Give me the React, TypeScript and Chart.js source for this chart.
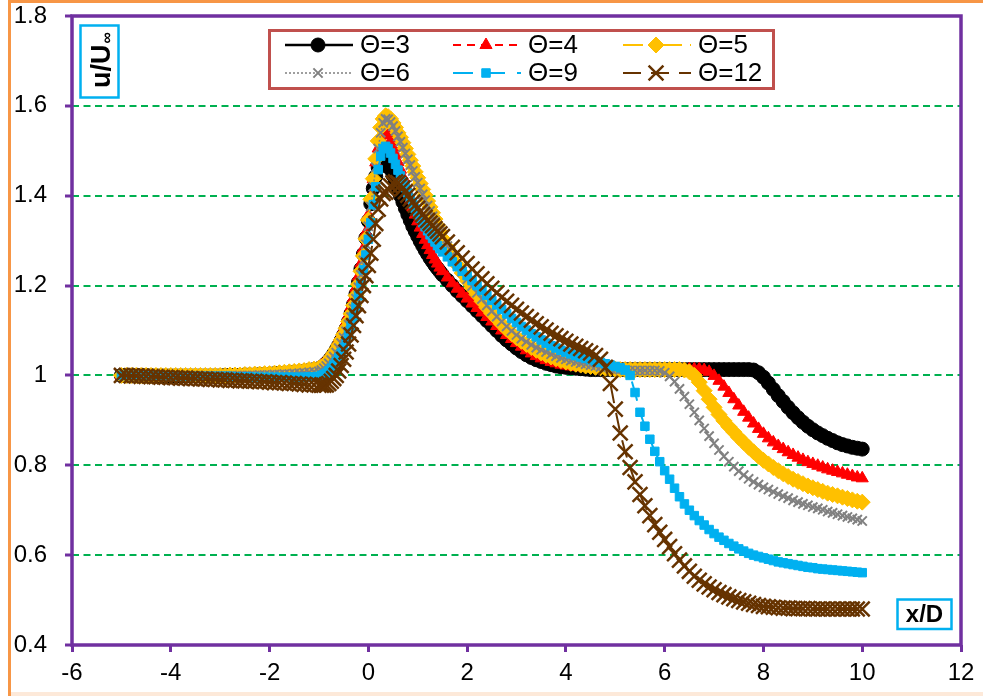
import React, { useEffect, useRef } from "react";
import { Chart, registerables } from "chart.js";
import { drawPoint } from "chart.js/helpers";

Chart.register(...registerables);

// Streamwise stations x/D (finer spacing around the body)
const X_POS = [
  -5, -4.9, -4.8, -4.7, -4.6, -4.5, -4.4, -4.3, -4.2, -4.1,
  -4, -3.9, -3.8, -3.7, -3.6, -3.5, -3.4, -3.3, -3.2, -3.1,
  -3, -2.9, -2.8, -2.7, -2.6, -2.5, -2.4, -2.3, -2.2, -2.1,
  -2, -1.9, -1.8, -1.7, -1.6, -1.5, -1.4, -1.3, -1.2, -1.1, -1,
  -0.95, -0.9, -0.85, -0.8, -0.75, -0.7, -0.65, -0.6, -0.55, -0.5,
  -0.45, -0.4, -0.35, -0.3, -0.25, -0.2, -0.15, -0.1, -0.05, 0,
  0.05, 0.1, 0.15, 0.2, 0.25, 0.3, 0.35, 0.4, 0.45, 0.5,
  0.55, 0.6, 0.65, 0.7, 0.75, 0.8, 0.85, 0.9, 0.95, 1,
  1.05, 1.1, 1.15, 1.2, 1.25, 1.3, 1.35, 1.4, 1.45, 1.5,
  1.6, 1.7, 1.8, 1.9, 2, 2.1, 2.2, 2.3, 2.4, 2.5,
  2.6, 2.7, 2.8, 2.9, 3, 3.1, 3.2, 3.3, 3.4, 3.5,
  3.6, 3.7, 3.8, 3.9, 4, 4.1, 4.2, 4.3, 4.4, 4.5,
  4.6, 4.7, 4.8, 4.9, 5, 5.1, 5.2, 5.3, 5.4, 5.5,
  5.6, 5.7, 5.8, 5.9, 6, 6.1, 6.2, 6.3, 6.4, 6.5,
  6.6, 6.7, 6.8, 6.9, 7, 7.1, 7.2, 7.3, 7.4, 7.5,
  7.6, 7.7, 7.8, 7.9, 8, 8.1, 8.2, 8.3, 8.4, 8.5,
  8.6, 8.7, 8.8, 8.9, 9, 9.1, 9.2, 9.3, 9.4, 9.5,
  9.6, 9.7, 9.8, 9.9, 10,
];

// u/U∞ for each Θ
const THETA_3 = [
  1, 1, 1, 1, 1, 1, 0.999, 0.999, 0.999, 0.999,
  0.999, 0.999, 0.999, 0.999, 0.999, 0.999, 0.999, 0.999, 0.999, 0.999,
  0.999, 1, 1, 1, 1, 1.001, 1.001, 1.001, 1.002, 1.002,
  1.003, 1.004, 1.005, 1.005, 1.006, 1.007, 1.008, 1.009, 1.011, 1.013, 1.015,
  1.018, 1.022, 1.027, 1.033, 1.04, 1.048, 1.057, 1.067, 1.078, 1.09,
  1.104, 1.12, 1.138, 1.158, 1.181, 1.207, 1.237, 1.27, 1.306, 1.344,
  1.382, 1.416, 1.443, 1.462, 1.474, 1.48, 1.479, 1.471, 1.459, 1.445,
  1.43, 1.415, 1.4, 1.386, 1.372, 1.358, 1.345, 1.332, 1.321, 1.31,
  1.299, 1.289, 1.279, 1.27, 1.261, 1.253, 1.245, 1.238, 1.231, 1.224,
  1.212, 1.2, 1.188, 1.177, 1.166, 1.155, 1.144, 1.133, 1.122, 1.111,
  1.1, 1.089, 1.079, 1.07, 1.061, 1.053, 1.046, 1.04, 1.035, 1.031,
  1.027, 1.024, 1.021, 1.019, 1.018, 1.017, 1.016, 1.015, 1.014, 1.013,
  1.013, 1.013, 1.013, 1.013, 1.013, 1.013, 1.013, 1.013, 1.013, 1.013,
  1.013, 1.013, 1.013, 1.013, 1.013, 1.013, 1.013, 1.013, 1.013, 1.013,
  1.013, 1.013, 1.013, 1.013, 1.013, 1.013, 1.013, 1.013, 1.013, 1.013,
  1.013, 1.013, 1.012, 1.006, 0.996, 0.983, 0.969, 0.955, 0.942, 0.929,
  0.917, 0.906, 0.896, 0.887, 0.879, 0.872, 0.866, 0.86, 0.855, 0.85,
  0.846, 0.843, 0.84, 0.838, 0.836,
];

const THETA_4 = [
  1, 1, 1, 1, 1, 1, 0.999, 0.999, 0.999, 0.999,
  0.999, 0.999, 0.999, 0.999, 0.999, 0.999, 0.999, 0.999, 0.999, 0.999,
  0.999, 1, 1, 1.001, 1.001, 1.001, 1.002, 1.002, 1.003, 1.003,
  1.004, 1.005, 1.006, 1.007, 1.008, 1.009, 1.01, 1.012, 1.013, 1.015, 1.018,
  1.022, 1.027, 1.033, 1.04, 1.048, 1.057, 1.067, 1.078, 1.09, 1.103,
  1.118, 1.134, 1.152, 1.172, 1.195, 1.22, 1.249, 1.282, 1.318, 1.357,
  1.398, 1.437, 1.474, 1.505, 1.527, 1.539, 1.541, 1.535, 1.523, 1.508,
  1.492, 1.475, 1.458, 1.441, 1.424, 1.407, 1.39, 1.374, 1.358, 1.343,
  1.329, 1.315, 1.302, 1.29, 1.279, 1.268, 1.258, 1.249, 1.24, 1.232,
  1.218, 1.205, 1.193, 1.182, 1.171, 1.16, 1.15, 1.14, 1.13, 1.12,
  1.11, 1.1, 1.09, 1.081, 1.072, 1.064, 1.056, 1.049, 1.043, 1.038,
  1.034, 1.03, 1.027, 1.024, 1.022, 1.02, 1.019, 1.018, 1.017, 1.016,
  1.015, 1.014, 1.014, 1.014, 1.014, 1.014, 1.014, 1.014, 1.014, 1.014,
  1.014, 1.014, 1.014, 1.014, 1.014, 1.014, 1.014, 1.014, 1.014, 1.014,
  1.014, 1.014, 1.012, 1.008, 0.999, 0.988, 0.975, 0.961, 0.947, 0.933,
  0.919, 0.906, 0.893, 0.881, 0.87, 0.86, 0.851, 0.843, 0.836, 0.829,
  0.823, 0.817, 0.812, 0.807, 0.803, 0.799, 0.795, 0.791, 0.788, 0.785,
  0.782, 0.779, 0.776, 0.773, 0.771,
];

const THETA_5 = [
  1, 1, 1, 1, 1, 1, 1, 1, 1, 1,
  1, 1, 1, 1, 1, 1, 1, 1, 1, 1,
  1, 1, 1.001, 1.001, 1.001, 1.002, 1.002, 1.003, 1.003, 1.004,
  1.004, 1.005, 1.006, 1.007, 1.008, 1.009, 1.01, 1.011, 1.013, 1.014, 1.016,
  1.019, 1.023, 1.028, 1.034, 1.041, 1.049, 1.058, 1.068, 1.079, 1.091,
  1.105, 1.12, 1.137, 1.156, 1.178, 1.203, 1.232, 1.266, 1.304, 1.346,
  1.392, 1.438, 1.482, 1.522, 1.552, 1.571, 1.578, 1.576, 1.571, 1.562,
  1.552, 1.54, 1.53, 1.518, 1.505, 1.492, 1.479, 1.466, 1.453, 1.44,
  1.427, 1.414, 1.401, 1.388, 1.375, 1.362, 1.348, 1.334, 1.32, 1.305,
  1.285, 1.265, 1.246, 1.228, 1.211, 1.195, 1.18, 1.165, 1.151, 1.138,
  1.126, 1.114, 1.103, 1.093, 1.084, 1.076, 1.069, 1.062, 1.056, 1.05,
  1.045, 1.041, 1.037, 1.033, 1.03, 1.027, 1.025, 1.023, 1.021, 1.02,
  1.018, 1.017, 1.016, 1.015, 1.014, 1.013, 1.013, 1.013, 1.013, 1.013,
  1.013, 1.013, 1.013, 1.013, 1.013, 1.013, 1.013, 1.013, 1.012, 1.008,
  1, 0.985, 0.966, 0.947, 0.929, 0.913, 0.899, 0.886, 0.874, 0.862,
  0.851, 0.84, 0.83, 0.82, 0.811, 0.803, 0.795, 0.788, 0.781, 0.775,
  0.769, 0.764, 0.759, 0.754, 0.75, 0.746, 0.742, 0.738, 0.735, 0.732,
  0.729, 0.726, 0.723, 0.72, 0.718,
];

const THETA_6 = [
  1, 1, 1, 1, 1, 1, 0.999, 0.999, 0.999, 0.999,
  0.999, 0.999, 0.999, 0.999, 0.999, 0.999, 0.999, 0.999, 0.999, 0.999,
  0.999, 0.999, 0.999, 0.999, 1, 1, 1, 1, 1.001, 1.001,
  1.001, 1.002, 1.002, 1.003, 1.003, 1.004, 1.005, 1.006, 1.007, 1.008, 1.009,
  1.012, 1.016, 1.021, 1.027, 1.034, 1.042, 1.051, 1.061, 1.072, 1.084,
  1.098, 1.113, 1.13, 1.149, 1.171, 1.196, 1.224, 1.256, 1.292, 1.332,
  1.376, 1.42, 1.463, 1.505, 1.54, 1.562, 1.571, 1.57, 1.564, 1.555,
  1.544, 1.532, 1.52, 1.507, 1.494, 1.481, 1.468, 1.455, 1.442, 1.429,
  1.416, 1.403, 1.39, 1.378, 1.366, 1.354, 1.342, 1.33, 1.319, 1.308,
  1.288, 1.268, 1.249, 1.231, 1.214, 1.199, 1.184, 1.17, 1.156, 1.143,
  1.131, 1.12, 1.109, 1.099, 1.09, 1.082, 1.075, 1.068, 1.062, 1.057,
  1.052, 1.047, 1.043, 1.039, 1.036, 1.033, 1.03, 1.027, 1.025, 1.023,
  1.021, 1.019, 1.017, 1.015, 1.014, 1.013, 1.012, 1.011, 1.011, 1.011,
  1.011, 1.011, 1.011, 1.01, 1.006, 0.998, 0.986, 0.97, 0.953, 0.936,
  0.918, 0.9, 0.882, 0.865, 0.849, 0.834, 0.82, 0.808, 0.797, 0.787,
  0.778, 0.77, 0.763, 0.757, 0.751, 0.746, 0.741, 0.736, 0.731, 0.727,
  0.722, 0.718, 0.714, 0.711, 0.707, 0.704, 0.701, 0.697, 0.694, 0.691,
  0.688, 0.685, 0.682, 0.679, 0.676,
];

const THETA_9 = [
  1, 1, 1, 1, 1, 0.999, 0.999, 0.999, 0.999, 0.999,
  0.999, 0.999, 0.999, 0.998, 0.998, 0.998, 0.998, 0.998, 0.998, 0.998,
  0.998, 0.998, 0.998, 0.997, 0.997, 0.997, 0.997, 0.996, 0.996, 0.996,
  0.996, 0.996, 0.996, 0.996, 0.996, 0.996, 0.996, 0.996, 0.997, 0.997, 0.998,
  1, 1.002, 1.005, 1.01, 1.016, 1.023, 1.031, 1.04, 1.05, 1.062,
  1.076, 1.092, 1.11, 1.13, 1.152, 1.177, 1.205, 1.235, 1.268, 1.303,
  1.34, 1.38, 1.42, 1.458, 1.488, 1.505, 1.51, 1.505, 1.495, 1.483,
  1.47, 1.457, 1.444, 1.431, 1.418, 1.406, 1.394, 1.382, 1.371, 1.36,
  1.35, 1.34, 1.331, 1.322, 1.313, 1.305, 1.297, 1.289, 1.282, 1.275,
  1.264, 1.253, 1.242, 1.232, 1.222, 1.211, 1.2, 1.189, 1.178, 1.167,
  1.157, 1.147, 1.137, 1.127, 1.118, 1.109, 1.101, 1.093, 1.086, 1.079,
  1.072, 1.066, 1.061, 1.056, 1.052, 1.048, 1.044, 1.041, 1.038, 1.035,
  1.032, 1.029, 1.026, 1.023, 1.02, 1.017, 1.012, 1, 0.962, 0.918,
  0.887, 0.858, 0.831, 0.808, 0.788, 0.769, 0.749, 0.73, 0.714, 0.7,
  0.688, 0.677, 0.667, 0.657, 0.648, 0.64, 0.633, 0.626, 0.62, 0.614,
  0.609, 0.604, 0.6, 0.597, 0.594, 0.591, 0.588, 0.585, 0.583, 0.581,
  0.579, 0.577, 0.575, 0.573, 0.572, 0.57, 0.569, 0.568, 0.567, 0.566,
  0.565, 0.564, 0.563, 0.562, 0.561,
];

const THETA_12 = [
  1, 1, 0.999, 0.999, 0.998, 0.998, 0.997, 0.997, 0.996, 0.996,
  0.995, 0.995, 0.994, 0.994, 0.993, 0.993, 0.992, 0.992, 0.991, 0.991,
  0.99, 0.99, 0.989, 0.989, 0.988, 0.988, 0.987, 0.987, 0.986, 0.986,
  0.985, 0.984, 0.984, 0.983, 0.982, 0.982, 0.981, 0.98, 0.979, 0.979, 0.978,
  0.978, 0.978, 0.979, 0.982, 0.987, 0.993, 1, 1.01, 1.022, 1.036,
  1.052, 1.07, 1.09, 1.111, 1.133, 1.155, 1.178, 1.2, 1.222, 1.245,
  1.272, 1.303, 1.338, 1.37, 1.393, 1.405, 1.408, 1.414, 1.422, 1.428,
  1.431, 1.429, 1.424, 1.417, 1.409, 1.401, 1.393, 1.386, 1.379, 1.372,
  1.365, 1.358, 1.352, 1.345, 1.339, 1.333, 1.327, 1.321, 1.315, 1.309,
  1.297, 1.285, 1.273, 1.261, 1.249, 1.237, 1.226, 1.215, 1.204, 1.194,
  1.184, 1.174, 1.165, 1.156, 1.147, 1.139, 1.131, 1.123, 1.115, 1.108,
  1.101, 1.094, 1.088, 1.082, 1.076, 1.07, 1.065, 1.06, 1.055, 1.05,
  1.044, 1.036, 1.018, 0.982, 0.925, 0.872, 0.83, 0.795, 0.763, 0.735,
  0.71, 0.688, 0.668, 0.651, 0.635, 0.619, 0.603, 0.589, 0.576, 0.564,
  0.553, 0.544, 0.536, 0.529, 0.523, 0.517, 0.512, 0.507, 0.503, 0.499,
  0.496, 0.493, 0.49, 0.488, 0.486, 0.485, 0.484, 0.483, 0.482, 0.482,
  0.481, 0.481, 0.481, 0.481, 0.48, 0.48, 0.48, 0.48, 0.48, 0.48,
  0.48, 0.48, 0.48, 0.48, 0.48,
];

const SERIES = [THETA_3, THETA_4, THETA_5, THETA_6, THETA_9, THETA_12];
const LABELS = ["Θ=3", "Θ=4", "Θ=5", "Θ=6", "Θ=9", "Θ=12"];
const X_TICKS = [-6, -4, -2, 0, 2, 4, 6, 8, 10, 12];
const Y_TICKS = [0.4, 0.6, 0.8, 1, 1.2, 1.4, 1.6, 1.8];

const FONT = "'Liberation Sans', Arial, sans-serif";
const PURPLE = "#7030A0";
const GRID_GREEN = "#00B050";
const CYAN = "#00B0F0";

const STYLES = [
  { color: "#000000", pointStyle: "circle", radius: 7, pbw: 1, dash: [] as number[], lw: 2.5 },
  { color: "#FF0000", pointStyle: "triangle", radius: 7, pbw: 1, dash: [8, 6], lw: 2 },
  { color: "#FFC000", pointStyle: "rectRot", radius: 8, pbw: 1, dash: [20, 8, 3, 8], lw: 2 },
  { color: "#808080", pointStyle: "crossRot", radius: 6.5, pbw: 2, dash: [2, 2], lw: 1.5 },
  { color: "#00B0F0", pointStyle: "rect", radius: 6, pbw: 1, dash: [20, 12], lw: 2 },
  { color: "#663300", pointStyle: "crossRot", radius: 10.5, pbw: 2.5, dash: [18, 10], lw: 2 },
];

// legend layout: line start per column, row centre lines
const LEGEND_COL_X = [285, 453, 623];
const LEGEND_ROW_Y = [45, 73];

const decorations = {
  id: "decorations",
  beforeDraw(chart: any) {
    const { ctx, width, height } = chart;
    ctx.save();
    ctx.fillStyle = "#ffffff";
    ctx.fillRect(0, 0, width, height);
    ctx.fillStyle = "#FDE9D9";
    ctx.fillRect(9, height - 4, width - 9, 4);
    ctx.strokeStyle = "#F79646";
    ctx.lineWidth = 3;
    ctx.beginPath();
    ctx.moveTo(9.5, height);
    ctx.lineTo(9.5, 1.5);
    ctx.lineTo(width, 1.5);
    ctx.stroke();
    ctx.restore();
  },
  afterDatasetsDraw(chart: any) {
    const { ctx, chartArea: a } = chart;
    ctx.save();
    ctx.strokeStyle = PURPLE;
    ctx.lineWidth = 3.5;
    ctx.strokeRect(a.left, a.top, a.right - a.left, a.bottom - a.top);
    ctx.restore();
  },
  afterDraw(chart: any) {
    const { ctx } = chart;
    ctx.save();

    // legend
    ctx.strokeStyle = "#C0504D";
    ctx.lineWidth = 3;
    ctx.strokeRect(269.5, 30.5, 504, 58);
    LABELS.forEach((label, i) => {
      const st = STYLES[i];
      const x0 = LEGEND_COL_X[i % 3];
      const y = LEGEND_ROW_Y[Math.floor(i / 3)];
      ctx.strokeStyle = st.color;
      ctx.lineWidth = st.lw;
      ctx.setLineDash(st.dash);
      ctx.beginPath();
      ctx.moveTo(x0, y);
      ctx.lineTo(x0 + 68, y);
      ctx.stroke();
      ctx.setLineDash([]);
      ctx.fillStyle = st.color;
      ctx.strokeStyle = st.color;
      ctx.lineWidth = st.pbw;
      drawPoint(ctx, { pointStyle: st.pointStyle, radius: st.radius, borderWidth: st.pbw, rotation: 0 } as any, x0 + 33, y);
      ctx.fillStyle = "#000000";
      ctx.font = `26px ${FONT}`;
      ctx.textAlign = "left";
      ctx.textBaseline = "middle";
      ctx.fillText(label, x0 + 75, y + 1);
    });

    // y-axis title box
    ctx.strokeStyle = CYAN;
    ctx.lineWidth = 2.5;
    ctx.strokeRect(80.5, 25.5, 38, 72);
    ctx.save();
    ctx.translate(110, 88);
    ctx.rotate(-Math.PI / 2);
    ctx.fillStyle = "#000000";
    ctx.font = `bold 27px ${FONT}`;
    ctx.textAlign = "left";
    ctx.textBaseline = "alphabetic";
    ctx.fillText("u/U", 0, 0);
    const w = ctx.measureText("u/U").width;
    ctx.font = `bold 16px ${FONT}`;
    ctx.fillText("∞", w + 1, 2);
    ctx.restore();

    // x-axis title box
    ctx.strokeStyle = CYAN;
    ctx.lineWidth = 2.5;
    ctx.strokeRect(897.5, 599.5, 54, 29.5);
    ctx.fillStyle = "#000000";
    ctx.font = `bold 24px ${FONT}`;
    ctx.textAlign = "center";
    ctx.textBaseline = "middle";
    ctx.fillText("x/D", 924.5, 615);

    ctx.restore();
  },
};

export default function App() {
  const canvasRef = useRef<HTMLCanvasElement | null>(null);

  useEffect(() => {
    document.body.style.margin = "0";
    const canvas = canvasRef.current;
    if (!canvas) return;

    const datasets = SERIES.map((ys, i) => {
      const st = STYLES[i];
      return {
        label: LABELS[i],
        data: X_POS.map((x, k) => ({ x, y: ys[k] })),
        borderColor: st.color,
        backgroundColor: st.color,
        borderWidth: st.lw,
        borderDash: st.dash,
        pointStyle: st.pointStyle,
        pointRadius: st.radius,
        pointBorderWidth: st.pbw,
        pointBackgroundColor: st.color,
        pointBorderColor: st.color,
        tension: 0,
        fill: false,
        order: SERIES.length - 1 - i,
      };
    });

    const tickFont = { family: FONT, size: 24 };

    const chart = new Chart(canvas, {
      type: "line",
      data: { datasets } as any,
      options: {
        responsive: false,
        animation: false,
        devicePixelRatio: 1,
        events: [],
        layout: { padding: { left: 0, top: 16, right: 22, bottom: 0 } },
        plugins: { legend: { display: false }, tooltip: { enabled: false } },
        scales: {
          x: {
            type: "linear",
            min: -6,
            max: 12,
            afterBuildTicks: (s: any) => {
              s.ticks = X_TICKS.map((v) => ({ value: v }));
            },
            afterFit: (s: any) => {
              s.height = 51;
              s.paddingLeft = 0;
              s.paddingRight = 0;
            },
            ticks: { font: tickFont, color: "#000000", padding: 7, maxRotation: 0, autoSkip: false, callback: (v: any) => String(v) },
            grid: { drawOnChartArea: false, drawTicks: true, tickLength: 7, tickColor: PURPLE, tickWidth: 3, color: PURPLE },
            border: { display: false },
          },
          y: {
            type: "linear",
            min: 0.4,
            max: 1.8,
            afterBuildTicks: (s: any) => {
              s.ticks = Y_TICKS.map((v) => ({ value: v }));
            },
            afterFit: (s: any) => {
              s.width = 72;
              s.paddingTop = 0;
              s.paddingBottom = 0;
            },
            ticks: { font: tickFont, color: "#000000", padding: 18, callback: (v: any) => String(v) },
            grid: {
              color: GRID_GREEN,
              lineWidth: 2,
              drawTicks: true,
              tickLength: 7,
              tickColor: PURPLE,
              tickWidth: 3,
              tickBorderDash: [],
            },
            border: { display: false, dash: [7, 4.5] },
          },
        },
      } as any,
      plugins: [decorations],
    });

    return () => chart.destroy();
  }, []);

  return (
    <div style={{ position: "relative", width: 983, height: 696 }}>
      <canvas ref={canvasRef} width={983} height={696} style={{ display: "block" }} />
    </div>
  );
}
